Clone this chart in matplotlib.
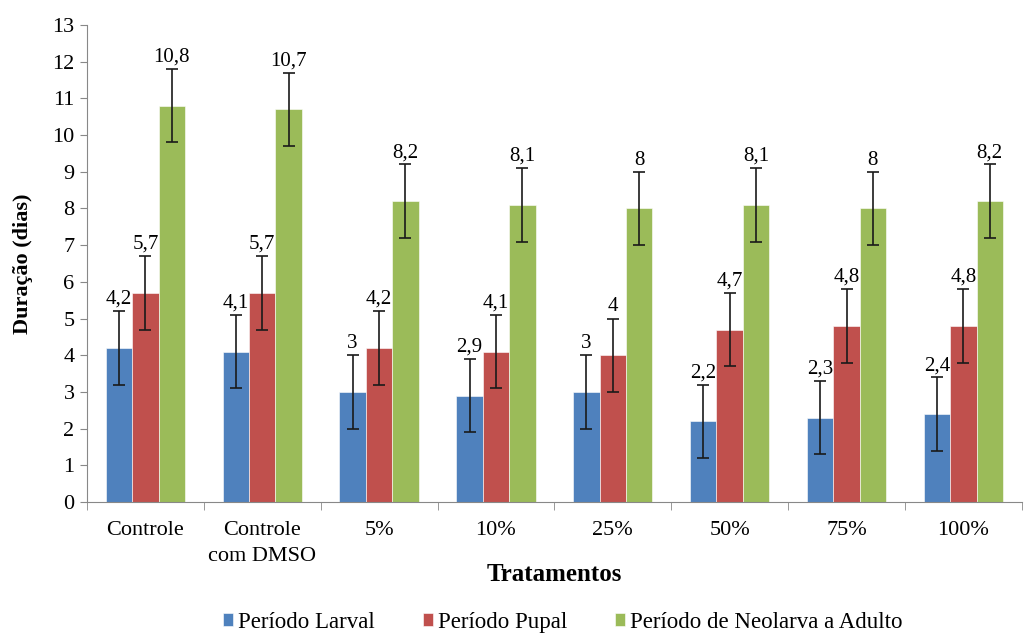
import numpy as np
import matplotlib
matplotlib.use("Agg")
import matplotlib.pyplot as plt

plt.rcParams['font.family'] = ['Liberation Serif', 'DejaVu Serif']

categories = ["Controle", "Controle\ncom DMSO", "5%", "10%", "25%", "50%", "75%", "100%"]
larval = [4.2, 4.1, 3.0, 2.9, 3.0, 2.2, 2.3, 2.4]
pupal = [5.7, 5.7, 4.2, 4.1, 4.0, 4.7, 4.8, 4.8]
neolarva = [10.8, 10.7, 8.2, 8.1, 8.0, 8.1, 8.0, 8.2]
erro = 1.0

series = [larval, pupal, neolarva]
names = ["Período Larval", "Período Pupal", "Período de Neolarva a Adulto"]
colors = ["#4F81BD", "#C0504D", "#9BBB59"]

def fmt(v):
    s = ("%.1f" % v).rstrip("0").rstrip(".")
    return s.replace(".", ",")

fig = plt.figure(figsize=(10.29, 6.35), dpi=100)
ax = fig.add_axes([0.0845, 0.2094, 0.9085, 0.7512])

x = np.arange(len(categories))
w = 0.226
for i, (vals, name, c) in enumerate(zip(series, names, colors)):
    pos = x + (i - 1) * w
    ax.bar(pos, vals, w, color=c, label=name, edgecolor="white", linewidth=0.4,
           yerr=erro, capsize=4, error_kw=dict(ecolor="#1a1a1a", elinewidth=1.2, capthick=1.2))
    for p, v in zip(pos, vals):
        ax.text(p, v + erro + 0.06, fmt(v), ha="center", va="bottom", fontsize=15)

ax.set_xlim(-0.5, len(categories) - 0.5)
ax.set_ylim(0, 13)
ax.set_yticks(range(0, 14))
ax.tick_params(axis="y", labelsize=16, length=5, color="#888888", direction="out", pad=4)

ax.set_xticks(x)
ax.set_xticklabels(categories, fontsize=16, linespacing=1.5)
ax.set_xticks(np.arange(-0.5, len(categories)), minor=True)
ax.tick_params(axis="x", which="major", length=0, pad=14)
ax.tick_params(axis="x", which="minor", length=6, color="#888888")

for s in ["top", "right"]:
    ax.spines[s].set_visible(False)
for s in ["left", "bottom"]:
    ax.spines[s].set_color("#888888")

ax.set_ylabel("Duração (dias)", fontsize=16, fontweight="bold")
ax.yaxis.set_label_coords(-0.058, 0.5)
ax.set_xlabel("Tratamentos", fontsize=18, fontweight="bold")
ax.xaxis.set_label_coords(0.5, -0.128)

fig.legend(loc="center", bbox_to_anchor=(0.547, 0.02), ncol=3, frameon=False,
           fontsize=16.5, handlelength=0.45, handleheight=0.45, handletextpad=0.2,
           columnspacing=2.1, borderaxespad=0, borderpad=0)

fig.savefig("out.png", dpi=100)
